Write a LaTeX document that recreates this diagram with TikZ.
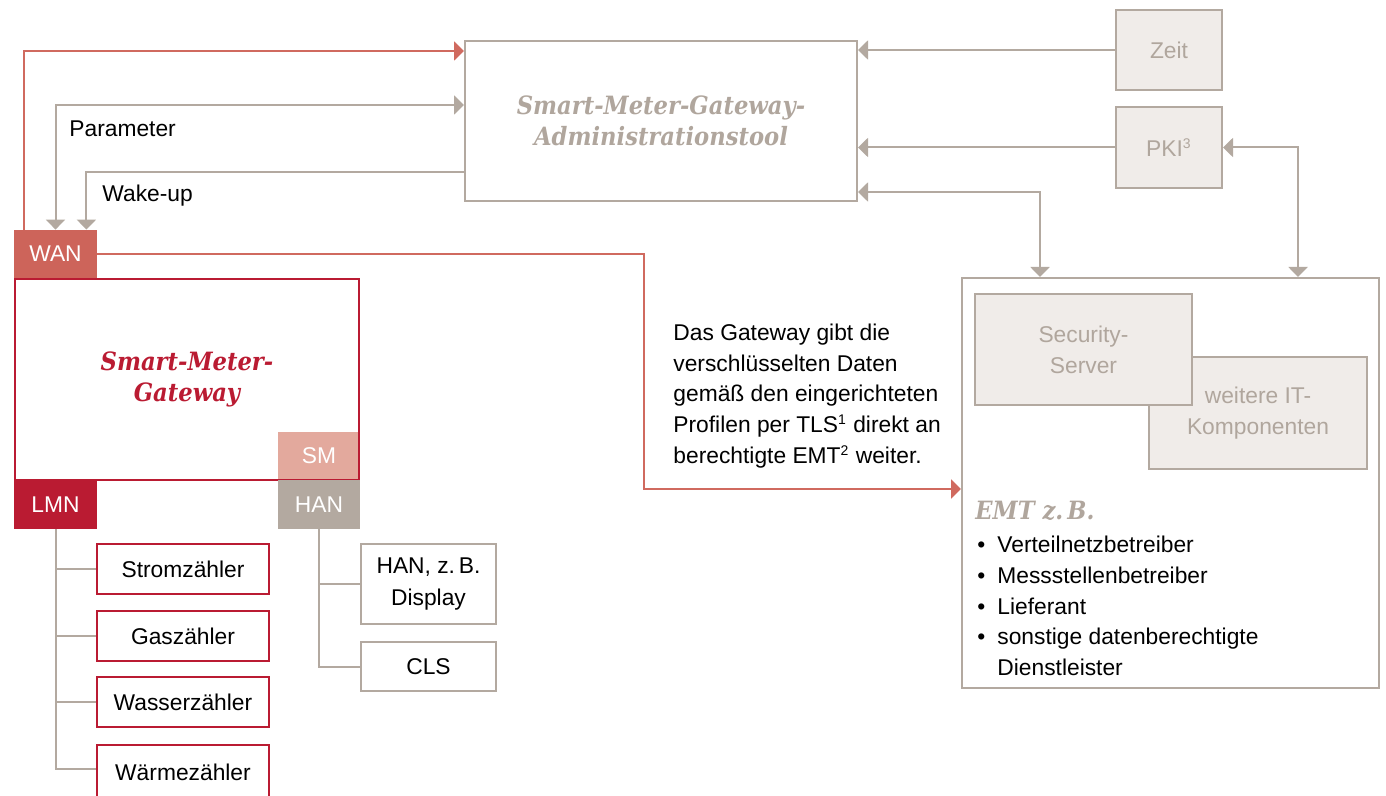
\documentclass[tikz,border=0pt]{standalone}
\usepackage{fontspec}
\setmainfont{Liberation Sans}
\newfontfamily\slabfont{DejaVu Serif Condensed}
\usetikzlibrary{arrows.meta,calc}
\definecolor{cgray}{HTML}{B3A9A0}
\definecolor{cgtext}{HTML}{B0A69D}
\definecolor{cfill}{HTML}{F0ECE9}
\definecolor{credline}{HTML}{D06A5F}
\definecolor{cwan}{HTML}{CD645A}
\definecolor{cdark}{HTML}{BA1B32}
\definecolor{csm}{HTML}{E3A99D}
\newcommand\supnum[1]{\textsuperscript{\fontsize{7pt}{7pt}\selectfont #1}}
\tikzset{
  txt/.style={font=\fontsize{11.4pt}{15.6pt}\selectfont, align=center, inner sep=0pt},
  slab/.style={font=\fontsize{12.6pt}{15.8pt}\selectfont\slabfont\bfseries\itshape, align=center, inner sep=0pt},
  gbox/.style={draw=cgray, line width=1pt, inner sep=0pt},
  lbox/.style={gbox, fill=cfill, text=cgtext},
  rbox/.style={draw=cdark, line width=1pt, inner sep=0pt},
  port/.style={txt, text=white, minimum width=41.5pt, minimum height=24.5pt},
  gline/.style={draw=cgray, line width=1pt},
  rline/.style={draw=credline, line width=1pt},
  gtip/.tip={Triangle[length=5pt,width=9.5pt]},
}
\begin{document}
\begin{tikzpicture}[x=0.5pt,y=-0.5pt]
\useasboundingbox (0,0) rectangle (1386,796);

% admin tool
\node[gbox, minimum width=196pt, minimum height=80pt, slab, text=cgtext] (admin) at (661,121) {Smart-Meter-Gateway-\\Administrationstool};
% Zeit / PKI
\node[lbox, txt, minimum width=53pt, minimum height=40pt] (zeit) at (1169,50) {Zeit};
\node[lbox, txt, minimum width=53pt, minimum height=40.5pt] (pki) at (1169,147.5) {PKI\supnum{3}};

% EMT box
\node[gbox, minimum width=208.5pt, minimum height=205pt] (emt) at (1170.5,483) {};
\node[lbox, txt, minimum width=109pt, minimum height=56pt] (weit) at (1258,413) {weitere IT-\\Komponenten};
\node[lbox, txt, minimum width=108.5pt, minimum height=55.5pt] (sec) at (1083.5,349.5) {Security-\\Server};
\node[slab, text=cgtext, anchor=west] (emthead) at (975,511) {EMT z.\,B.};
\node[txt, align=left, anchor=west, font=\fontsize{11.4pt}{15.35pt}\selectfont] (emtlist) at (977,606)
  {\makebox[10pt][l]{\textbullet}Verteilnetzbetreiber\\
   \makebox[10pt][l]{\textbullet}Messstellenbetreiber\\
   \makebox[10pt][l]{\textbullet}Lieferant\\
   \makebox[10pt][l]{\textbullet}sonstige datenberechtigte\\
   \makebox[10pt][l]{}Dienstleister};

% gateway
\node[port, fill=csm, minimum width=41pt, minimum height=24pt] (sm) at (319,456) {SM};
\node[rbox, minimum width=172pt, minimum height=100.5pt, slab, text=cdark] (gw) at (187,379.5) {Smart-Meter-\\Gateway};
\node[port, fill=cwan, minimum height=24pt] (wan) at (55.5,254) {WAN};
\node[port, fill=cdark] (lmn) at (55.5,504.5) {LMN};
\node[port, fill=cgray, minimum width=41pt] (han) at (319,504.5) {HAN};

% meters
\node[rbox, txt, minimum width=86pt, minimum height=25pt] (strom) at (183,569) {Stromzähler};
\node[rbox, txt, minimum width=86pt, minimum height=25pt] (gas) at (183,636) {Gaszähler};
\node[rbox, txt, minimum width=86pt, minimum height=25pt] (wasser) at (183,702) {Wasserzähler};
\node[rbox, txt, minimum width=86pt, minimum height=27pt] (waerme) at (183,772) {Wärmezähler};
% HAN devices
\node[gbox, txt, minimum width=67.5pt, minimum height=40pt] (hand) at (428.5,584) {HAN, z.\,B.\\Display};
\node[gbox, txt, minimum width=67.5pt, minimum height=24.5pt] (cls) at (428.5,666.5) {CLS};

% trees
\draw[gline] (lmn.south) |- ([yshift=1.5pt]waerme.west);
\draw[gline] (lmn.south |- strom.west) -- (strom.west);
\draw[gline] (lmn.south |- gas.west) -- (gas.west);
\draw[gline] (lmn.south |- wasser.west) -- (wasser.west);
\draw[gline] (han.south) |- (cls.west);
\draw[gline] (han.south |- hand.west) -- (hand.west);

% connectors top
\draw[rline, -{gtip}] ([xshift=5pt]wan.north west) |- ([yshift=35pt]admin.west);
\draw[gline, {gtip}-{gtip}] (wan.north) |- ([yshift=8pt]admin.west);
\draw[gline, {gtip}-] ([xshift=-5.5pt]wan.north east) |- ([yshift=-25.5pt]admin.west);
\node[txt, anchor=west] (param) at (69,129) {Parameter};
\node[txt, anchor=west] (wake) at (102,196) {Wake-up};

\draw[gline, -{gtip}] (zeit.west) -- (zeit.west -| admin.east);
\draw[gline, -{gtip}] (pki.west) -- (pki.west -| admin.east);
\draw[gline, {gtip}-{gtip}] ([yshift=-35.5pt]admin.east) -| ([xshift=-65.25pt]emt.north);
\draw[gline, {gtip}-{gtip}] (pki.east) -| ([xshift=63.75pt]emt.north);

% red data path
\coordinate (redbend) at (644,254);
\draw[rline, -{gtip}] (wan.east) -- (redbend) |- ([yshift=-3pt]emt.west);
\node[txt, align=left, anchor=west, font=\fontsize{11.4pt}{15.35pt}\selectfont] (note) at (673,396)
  {Das Gateway gibt die\\verschlüsselten Daten\\gemäß den eingerichteten\\Profilen per TLS\supnum{1} direkt an\\berechtigte EMT\supnum{2} weiter.};
\end{tikzpicture}
\end{document}
